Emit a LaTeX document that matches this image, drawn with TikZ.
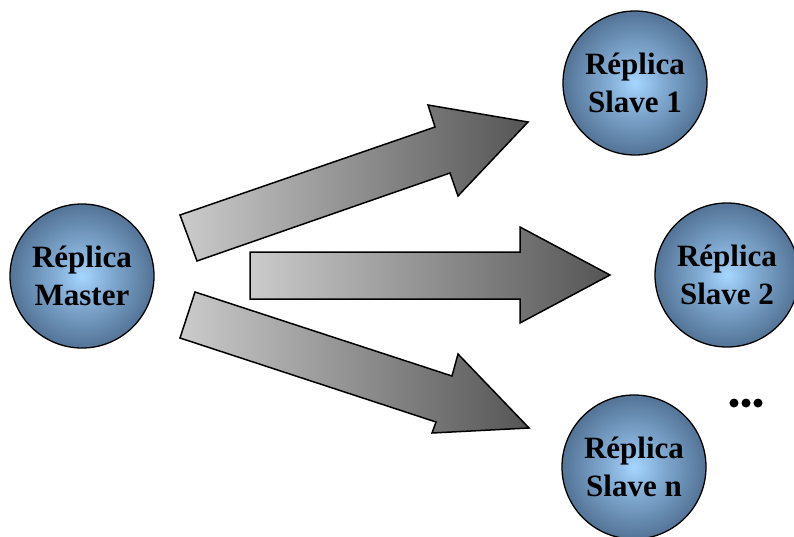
\documentclass[tikz,border=0pt]{standalone}
\usepackage{fontspec}
\setmainfont{Liberation Serif}
\usetikzlibrary{shadings}
\definecolor{ballin}{HTML}{A6D6FF}
\definecolor{ballmid}{HTML}{84AED6}
\definecolor{balldeep}{HTML}{56779A}
\definecolor{ballout}{HTML}{38506B}
\definecolor{arrlight}{HTML}{CBCBCB}
\definecolor{arrdark}{HTML}{555555}
\pgfdeclareradialshading{replicaball}{\pgfpoint{0bp}{0bp}}{%
  color(0bp)=(ballin); color(9bp)=(ballmid); color(24bp)=(balldeep);
  color(42bp)=(ballout); color(50bp)=(ballout)}
\tikzset{
  replica/.style={circle, draw=black, line width=1.3pt, minimum size=144pt,
    inner sep=0pt, shading=replicaball, align=center,
    font=\fontsize{31}{38}\selectfont\bfseries},
  blockarrow/.style={draw=black, line width=1.5pt, line join=miter,
    left color=arrlight, right color=arrdark, shading angle=90},
  moredot/.style={circle, fill=black, inner sep=0pt, minimum size=9pt}
}
\begin{document}
\begin{tikzpicture}[x=1pt,y=-1pt]
\useasboundingbox (0,0) rectangle (794,536);

% replicas
\node[replica] (master) at (82,276) {Réplica\\Master};
\node[replica] (s1) at (635,83) {Réplica\\Slave 1};
\node[replica] (s2) at (727,275) {Réplica\\Slave 2};
\node[replica] (sn) at (634,467) {Réplica\\Slave n};

% block arrows from the master towards the slaves
\path[blockarrow, left color=arrlight, right color=arrdark]
  (197,261) -- (180,215) -- (435,127) -- (428,105) -- (528,122)
  -- (458,196) -- (450,173) -- cycle;
\path[blockarrow, left color=arrlight, right color=arrdark]
  (250,252) -- (520,252) -- (520,227) -- (610,275)
  -- (520,323) -- (520,299) -- (250,299) -- cycle;
\path[blockarrow, left color=arrlight, right color=arrdark]
  (195,292) -- (180,338) -- (436,422) -- (432,433) -- (529,428)
  -- (458,354) -- (452,376) -- cycle;

% ellipsis below slave 2
\node[moredot] (d1) at (734,403) {};
\node[moredot] (d2) at (746,403) {};
\node[moredot] (d3) at (758,403) {};
\end{tikzpicture}
\end{document}
